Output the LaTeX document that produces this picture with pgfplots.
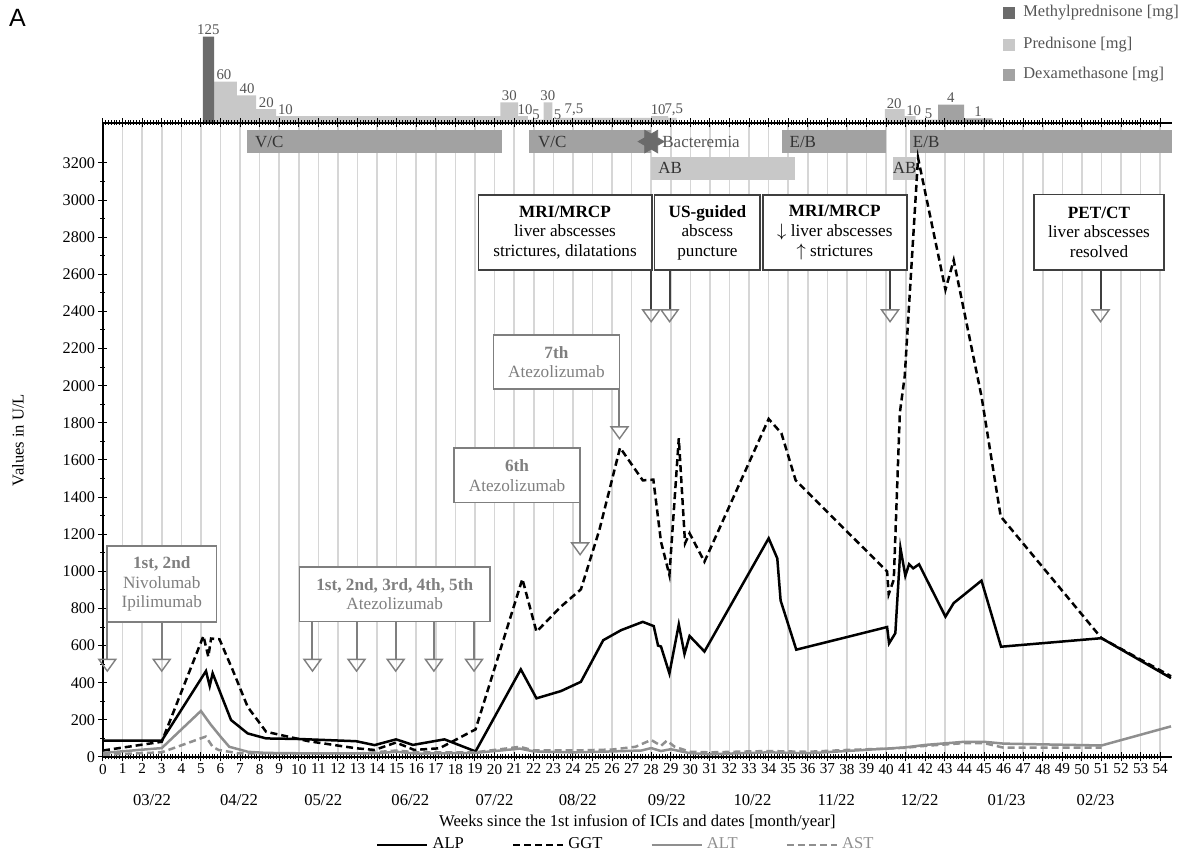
\documentclass[border=0pt]{standalone}
\usepackage{fontspec}
\setmainfont{Liberation Serif}
\newfontfamily\sansA{Liberation Sans}
\usepackage{pgfplots}
\pgfplotsset{compat=1.18}
\definecolor{gridc}{HTML}{D6D6D6}
\definecolor{methc}{HTML}{6B6B6B}
\definecolor{predc}{HTML}{C8C8C8}
\definecolor{dexc}{HTML}{A2A2A2}
\definecolor{vcc}{HTML}{A2A2A2}
\definecolor{abc}{HTML}{C8C8C8}
\definecolor{starc}{HTML}{6B6B6B}
\definecolor{curveg}{HTML}{8F8F8F}
\definecolor{boxg}{HTML}{7F7F7F}
\definecolor{boxd}{HTML}{3F3F3F}
\definecolor{labg}{HTML}{555555}
\definecolor{bart}{HTML}{333333}
\pgfdeclareplotmark{hexstar}{%
 \pgfpathmoveto{\pgfpointpolar{0}{\pgfplotmarksize}}%
 \pgfpathlineto{\pgfpointpolar{30}{0.577\pgfplotmarksize}}%
 \pgfpathlineto{\pgfpointpolar{60}{\pgfplotmarksize}}%
 \pgfpathlineto{\pgfpointpolar{90}{0.577\pgfplotmarksize}}%
 \pgfpathlineto{\pgfpointpolar{120}{\pgfplotmarksize}}%
 \pgfpathlineto{\pgfpointpolar{150}{0.577\pgfplotmarksize}}%
 \pgfpathlineto{\pgfpointpolar{180}{\pgfplotmarksize}}%
 \pgfpathlineto{\pgfpointpolar{210}{0.577\pgfplotmarksize}}%
 \pgfpathlineto{\pgfpointpolar{240}{\pgfplotmarksize}}%
 \pgfpathlineto{\pgfpointpolar{270}{0.577\pgfplotmarksize}}%
 \pgfpathlineto{\pgfpointpolar{300}{\pgfplotmarksize}}%
 \pgfpathlineto{\pgfpointpolar{330}{0.577\pgfplotmarksize}}%
 \pgfpathclose\pgfusepathqfillstroke}
\newcommand{\boxfont}{\fontsize{8.6}{9.8}\selectfont}
\newcommand{\labfont}{\fontsize{7.4}{8}\selectfont}
\begin{document}
\begin{tikzpicture}
\useasboundingbox (-51.5pt,-50pt) rectangle (546.5pt,378.5pt);
\node[font=\sansA\fontsize{12.5}{14}\selectfont, inner sep=0pt] at (-42.75pt,369.5pt) {A};
% steroid legend
\fill[methc] (450pt,369pt) rectangle (456pt,375pt);
\node[anchor=west, text=labg, font=\fontsize{8.2}{9}\selectfont, inner sep=0pt] at (460pt,372pt) {Methylprednisone [mg]};
\fill[predc] (450pt,353pt) rectangle (456pt,359pt);
\node[anchor=west, text=labg, font=\fontsize{8.2}{9}\selectfont, inner sep=0pt] at (460pt,356pt) {Prednisone [mg]};
\fill[dexc] (450pt,338pt) rectangle (456pt,344pt);
\node[anchor=west, text=labg, font=\fontsize{8.2}{9}\selectfont, inner sep=0pt] at (460pt,341pt) {Dexamethasone [mg]};

% steroid axis
\begin{axis}[at={(0pt,317pt)}, anchor=south west, scale only axis,
  width=534.5pt, height=44.85pt, xmin=0, xmax=54.6, ymin=0, ymax=130,
  axis lines=none, clip=false]
\addplot[const plot, fill=predc, draw=none] coordinates {(5.67,60) (6.84,40) (7.82,20) (8.84,10) (20.3,30) (21.2,10) (21.7,5) (22.5,30) (22.95,5) (23.17,7.5) (28.0,10) (28.87,7.5) (29.3,7.5)} \closedcycle;
\addplot[const plot, fill=predc, draw=none] coordinates {(39.93,20) (40.95,10) (41.5,5) (42.65,5)} \closedcycle;
\addplot[const plot, fill=methc, draw=none] coordinates {(5.1,125) (5.67,125)} \closedcycle;
\addplot[const plot, fill=dexc, draw=none] coordinates {(42.65,26.7) (43.98,6.7) (45.43,6.7)} \closedcycle;
\begin{scope}[every node/.style={font=\labfont, text=labg, inner sep=0.6pt}]
\node[anchor=south] at (axis cs:5.38,125) {125};
\node[anchor=south west] at (axis cs:5.72,60) {60};
\node[anchor=south west] at (axis cs:6.9,40) {40};
\node[anchor=south west] at (axis cs:7.88,20) {20};
\node[anchor=south west] at (axis cs:8.86,10) {10};
\node[anchor=south] at (axis cs:20.75,30) {30};
\node[anchor=south west] at (axis cs:21.1,10) {10};
\node[anchor=south west] at (axis cs:21.85,2) {5};
\node[anchor=south] at (axis cs:22.72,30) {30};
\node[anchor=south west] at (axis cs:22.95,2) {5};
\node[anchor=south west] at (axis cs:23.5,7.5) {7,5};
\node[anchor=south west] at (axis cs:27.9,10) {10};
\node[anchor=south west] at (axis cs:28.6,7.5) {7,5};
\node[anchor=south west] at (axis cs:39.95,18) {20};
\node[anchor=south west] at (axis cs:40.95,8) {10};
\node[anchor=south west] at (axis cs:41.9,4) {5};
\node[anchor=south] at (axis cs:43.3,26.7) {4};
\node[anchor=south] at (axis cs:44.7,6.7) {1};
\end{scope}
\end{axis}

% main axis
\begin{axis}[at={(0pt,0pt)}, anchor=south west, scale only axis,
  width=534.5pt, height=317pt,
  xmin=0, xmax=54.6, ymin=0, ymax=3415,
  axis x line=box, axis y line=left,
  axis line style={-, line width=0.8pt},
  xtick={0,...,54}, minor x tick num=6,
  ytick={0,200,...,3200}, minor y tick num=1,
  tick align=center, major tick length=4.5pt, minor tick length=2.5pt,
  tick style={black, line width=0.5pt},
  xmajorgrids=true, major grid style={gridc, line width=0.8pt},
  /pgf/number format/assume math mode=true,
  /pgf/number format/1000 sep={},
  xticklabel style={font=\fontsize{7.6}{8}\selectfont, inner sep=1pt},
  yticklabel style={font=\fontsize{8.1}{9}\selectfont, inner sep=1.5pt},
  xlabel={Weeks since the 1st infusion of ICIs and dates [month/year]},
  every axis x label/.style={at={(axis description cs:0.5,-0.1025)}, anchor=center, font=\fontsize{8.3}{9}\selectfont},
  ylabel={Values in U/L},
  every axis y label/.style={at={(axis description cs:-0.0795,0.5)}, anchor=center, rotate=90, font=\fontsize{8.3}{9}\selectfont},
  clip=false,
  legend columns=4,
  legend image code/.code={\draw[#1] (0pt,0pt) -- (25pt,0pt);},
  legend style={draw=none, fill=none, at={(axis description cs:0.49,-0.1388)}, anchor=center,
    font=\fontsize{8.3}{9}\selectfont, /tikz/every even column/.append style={column sep=22pt}},
]
% treatment rows
\addplot[fill=vcc, draw=none, forget plot] coordinates {(7.36,3252) (20.4,3252) (20.4,3378) (7.36,3378)} -- cycle;
\addplot[fill=vcc, draw=none, forget plot] coordinates {(21.78,3252) (28.0,3252) (28.0,3378) (21.78,3378)} -- cycle;
\addplot[fill=vcc, draw=none, forget plot] coordinates {(34.66,3252) (40.0,3252) (40.0,3378) (34.66,3378)} -- cycle;
\addplot[fill=vcc, draw=none, forget plot] coordinates {(41.2,3252) (54.6,3252) (54.6,3378) (41.2,3378)} -- cycle;
\addplot[fill=abc, draw=none, forget plot] coordinates {(28.0,3108) (35.33,3108) (35.33,3234) (28.0,3234)} -- cycle;
\addplot[fill=abc, draw=none, forget plot] coordinates {(40.37,3108) (41.5,3108) (41.5,3234) (40.37,3234)} -- cycle;
\addplot[only marks, mark=hexstar, mark size=6.5pt, mark options={fill=starc, draw=starc}, forget plot] coordinates {(28.0,3315)};
\begin{scope}[every node/.style={font=\fontsize{8.5}{9}\selectfont, text=bart, inner sep=0pt}]
\node[anchor=west] at (axis cs:7.75,3315) {V/C};
\node[anchor=west] at (axis cs:22.2,3315) {V/C};
\node[anchor=west, text=labg] at (axis cs:28.55,3315) {Bacteremia};
\node[anchor=west] at (axis cs:35.05,3315) {E/B};
\node[anchor=west] at (axis cs:41.35,3315) {E/B};
\node[anchor=west] at (axis cs:28.35,3171) {AB};
\node[anchor=center] at (axis cs:40.95,3171) {AB};
\end{scope}

% curves
\addplot[black, line width=1.25pt] coordinates {(0,88) (3,88) (5.26,463) (5.45,382) (5.6,451) (6.54,199) (7.39,127) (8.33,100) (10,97) (12.93,85) (13.87,64) (14.97,95) (15.83,65) (17.44,95) (19.03,30) (21.34,472) (22.14,316) (23.39,355) (24.41,405) (25.55,629) (26.46,683) (27.57,728) (28.13,705) (28.35,600) (28.5,595) (28.93,450) (29.41,714) (29.7,555) (29.96,652) (30.72,568) (34.0,1178) (34.44,1070) (34.61,843) (35.41,578) (40.05,700) (40.15,612) (40.47,667) (40.73,1126) (40.98,976) (41.17,1038) (41.38,1016) (41.68,1038) (43.03,756) (43.45,829) (44.87,950) (45.87,594) (51.0,640) (54.55,425)};
\addlegendentry{ALP}
\addplot[black, line width=1.25pt, dash pattern=on 3.5pt off 2pt] coordinates {(0,35) (3,82) (5.13,652) (5.38,540) (5.52,638) (5.95,634) (6.63,467) (7.39,270) (8.33,136) (10.5,85) (12.93,47) (13.87,38) (14.97,78) (15.9,38) (17.19,47) (19.03,149) (21.42,959) (22.14,675) (23.39,810) (24.41,903) (25.35,1222) (26.41,1666) (27.57,1490) (28.11,1494) (28.5,1160) (28.93,980) (29.41,1717) (29.73,1151) (29.96,1205) (30.72,1052) (34.0,1821) (34.65,1744) (35.38,1490) (40.05,999) (40.13,877) (40.39,955) (40.7,1854) (40.95,2052) (41.63,3227) (43.03,2517) (43.45,2676) (44.87,1943) (45.85,1296) (51.0,640) (54.55,435)};
\addlegendentry{GGT}
\addplot[curveg, line width=1.25pt] coordinates {(0,22) (3,48) (5.0,248) (5.5,175) (6.0,110) (6.45,55) (7.4,28) (8.3,22) (10,20) (14,20) (15,28) (16,18) (19,22) (21.3,45) (22,30) (24,25) (26,30) (27.5,35) (28,48) (28.5,32) (29,42) (30,20) (31,15) (34,25) (36,20) (40,45) (41,52) (42,65) (44,82) (45,82) (46,72) (51,62) (54.55,165)};
\addlegendentry{\textcolor{curveg}{ALT}}
\addplot[curveg, line width=1.25pt, dash pattern=on 3.5pt off 2pt] coordinates {(0,12) (3,25) (5.25,110) (5.6,55) (5.9,38) (6.9,20) (10,18) (13,18) (15,35) (16,25) (19,25) (21.3,55) (22,35) (24,35) (26,40) (27.2,55) (28,92) (28.5,60) (28.8,88) (29.2,55) (30,28) (31,25) (33,30) (34,32) (36,28) (38,38) (40,45) (41,50) (42,60) (44,75) (45,75) (46,50) (51,50)};
\addlegendentry{\textcolor{curveg}{AST}}

% annotation boxes (gray)
\draw[boxg, line width=0.8pt, fill=white] (axis cs:0.2,727) rectangle (axis cs:5.8,1137);
\node[text=boxg, align=center, font=\boxfont] at (axis cs:3.0,932) {\textbf{1st, 2nd}\\Nivolumab\\Ipilimumab};
\draw[boxg, line width=0.8pt, fill=white] (axis cs:10.03,729) rectangle (axis cs:19.77,1025);
\node[text=boxg, align=center, font=\boxfont] at (axis cs:14.9,877) {\textbf{1st, 2nd, 3rd, 4th, 5th}\\Atezolizumab};
\draw[boxg, line width=0.8pt, fill=white] (axis cs:17.94,1370) rectangle (axis cs:24.37,1663);
\node[text=boxg, align=center, font=\boxfont] at (axis cs:21.15,1516) {\textbf{6th}\\Atezolizumab};
\draw[boxg, line width=0.8pt, fill=white] (axis cs:19.94,1982) rectangle (axis cs:26.38,2273);
\node[text=boxg, align=center, font=\boxfont] at (axis cs:23.16,2127) {\textbf{7th}\\Atezolizumab};
% arrows gray
\addplot[boxg, line width=1pt, forget plot] coordinates {(0.22,727) (0.22,526)};
\addplot[boxg, line width=1pt, forget plot] coordinates {(3.0,727) (3.0,526)};
\addplot[boxg, line width=1pt, forget plot] coordinates {(10.7,729) (10.7,526)};
\addplot[boxg, line width=1pt, forget plot] coordinates {(12.95,729) (12.95,526)};
\addplot[boxg, line width=1pt, forget plot] coordinates {(14.95,729) (14.95,526)};
\addplot[boxg, line width=1pt, forget plot] coordinates {(16.9,729) (16.9,526)};
\addplot[boxg, line width=1pt, forget plot] coordinates {(18.95,729) (18.95,526)};
\addplot[boxg, line width=1pt, forget plot] coordinates {(24.37,1370) (24.37,1153)};
\addplot[boxg, line width=1pt, forget plot] coordinates {(26.38,1982) (26.38,1778)};
\addplot[only marks, mark=triangle, mark size=4.9pt, mark options={rotate=180, yscale=0.8, fill=white, draw=boxg, line width=0.7pt}, forget plot] coordinates {(0.22,505) (3.0,505) (10.7,505) (12.95,505) (14.95,505) (16.9,505) (18.95,505) (24.37,1132) (26.38,1757)};

% annotation boxes (dark)
\draw[boxd, line width=0.8pt, fill=white] (axis cs:19.18,2622) rectangle (axis cs:28.03,3028);
\node[align=center, font=\boxfont] at (axis cs:23.6,2825) {\textbf{MRI/MRCP}\\liver abscesses\\strictures, dilatations};
\draw[boxd, line width=0.8pt, fill=white] (axis cs:28.16,2622) rectangle (axis cs:33.57,3028);
\node[align=center, font=\boxfont] at (axis cs:30.87,2825) {\textbf{US-guided}\\abscess\\puncture};
\draw[boxd, line width=0.8pt, fill=white] (axis cs:33.7,2622) rectangle (axis cs:41.07,3028);
\node[align=center, font=\boxfont] at (axis cs:37.38,2825) {\textbf{MRI/MRCP}\\$\downarrow$ liver abscesses\\$\uparrow$ strictures};
\draw[boxd, line width=0.8pt, fill=white] (axis cs:47.55,2623) rectangle (axis cs:54.2,3030);
\node[align=center, font=\boxfont] at (axis cs:50.87,2826) {\textbf{PET/CT}\\liver abscesses\\resolved};
\addplot[boxd, line width=1pt, forget plot] coordinates {(28.0,2622) (28.0,2408)};
\addplot[boxd, line width=1pt, forget plot] coordinates {(28.94,2622) (28.94,2408)};
\addplot[boxd, line width=1pt, forget plot] coordinates {(40.2,2622) (40.2,2408)};
\addplot[boxd, line width=1pt, forget plot] coordinates {(50.95,2623) (50.95,2408)};
\addplot[only marks, mark=triangle, mark size=4.9pt, mark options={rotate=180, yscale=0.8, fill=white, draw=boxg, line width=0.7pt}, forget plot] coordinates {(28.0,2387) (28.94,2387) (40.2,2387) (50.95,2387)};

% month labels
\begin{scope}[every node/.style={font=\fontsize{8.3}{9}\selectfont, anchor=center}]
\node at ([yshift=-21.5pt]axis cs:2.5,0) {03/22};
\node at ([yshift=-21.5pt]axis cs:6.95,0) {04/22};
\node at ([yshift=-21.5pt]axis cs:11.25,0) {05/22};
\node at ([yshift=-21.5pt]axis cs:15.7,0) {06/22};
\node at ([yshift=-21.5pt]axis cs:20.0,0) {07/22};
\node at ([yshift=-21.5pt]axis cs:24.25,0) {08/22};
\node at ([yshift=-21.5pt]axis cs:28.8,0) {09/22};
\node at ([yshift=-21.5pt]axis cs:33.17,0) {10/22};
\node at ([yshift=-21.5pt]axis cs:37.45,0) {11/22};
\node at ([yshift=-21.5pt]axis cs:41.7,0) {12/22};
\node at ([yshift=-21.5pt]axis cs:46.15,0) {01/23};
\node at ([yshift=-21.5pt]axis cs:50.7,0) {02/23};
\end{scope}
\end{axis}
\end{tikzpicture}
\end{document}
